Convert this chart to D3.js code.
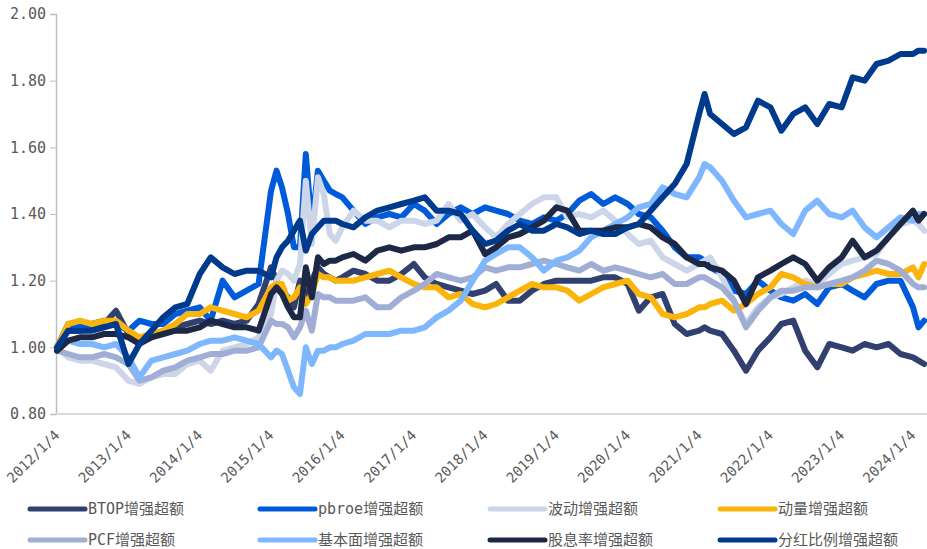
<!DOCTYPE html>
<html>
<head>
<meta charset="utf-8">
<script src="https://cdn.jsdelivr.net/npm/d3@7"></script>
<style>
  body { margin: 0; background: #fff; }
  text { font-family: "DejaVu Sans Mono", "Noto Sans CJK SC", monospace; fill: #595959; }
</style>
</head>
<body>
<div id="chart"></div>
<script>
// dates shared by all series
var dates = [
  "2012-01-04","2012-03-01","2012-05-01","2012-07-01","2012-09-01","2012-11-01",
  "2013-01-04","2013-03-01","2013-05-01","2013-07-01","2013-09-01","2013-11-01",
  "2014-01-04","2014-03-01","2014-05-01","2014-07-01","2014-09-01","2014-11-01",
  "2015-01-04","2015-02-01","2015-03-01","2015-04-01","2015-05-01","2015-06-01",
  "2015-07-01","2015-08-01","2015-09-01","2015-10-01","2015-11-01","2015-12-01",
  "2016-01-04","2016-03-01","2016-05-01","2016-07-01","2016-09-01","2016-11-01",
  "2017-01-04","2017-03-01","2017-05-01","2017-07-01","2017-09-01","2017-11-01",
  "2018-01-04","2018-03-01","2018-05-01","2018-07-01","2018-09-01","2018-11-01",
  "2019-01-04","2019-03-01","2019-05-01","2019-07-01","2019-09-01","2019-11-01",
  "2020-01-04","2020-03-01","2020-05-01","2020-07-01","2020-09-01","2020-11-01",
  "2021-01-04","2021-02-01","2021-03-01","2021-05-01","2021-07-01","2021-09-01","2021-11-01",
  "2022-01-04","2022-03-01","2022-05-01","2022-07-01","2022-09-01","2022-11-01",
  "2023-01-04","2023-03-01","2023-05-01","2023-07-01","2023-09-01","2023-11-01",
  "2024-01-04","2024-02-01","2024-03-01"
];

var btop = [1.00,1.05,1.05,1.06,1.07,1.11, 1.04,1.02,1.03,1.05,1.06,1.07, 1.08,1.07,1.08,1.07,1.08,1.13,
  1.24,1.20,1.17,1.15,1.12,1.20, 1.14,1.20,1.24,1.22,1.21,1.20,
  1.21,1.23,1.22,1.20,1.20,1.22, 1.25,1.21,1.19,1.18,1.17,1.16, 1.17,1.19,1.14,1.14,1.17,1.19,
  1.20,1.20,1.20,1.20,1.21,1.21, 1.19,1.11,1.15,1.16,1.07,1.04,
  1.05,1.06,1.05,1.04,0.99,0.93,0.99, 1.03,1.07,1.08,0.99,0.94,1.01, 1.00,0.99,1.01,1.00,1.01,0.98, 0.97,0.96,0.95];

var pbroe = [1.00,1.07,1.06,1.07,1.08,1.07, 1.05,1.08,1.07,1.07,1.10,1.11, 1.12,1.08,1.20,1.15,1.17,1.19,
  1.47,1.53,1.48,1.40,1.30,1.30, 1.58,1.36,1.53,1.50,1.47,1.46,
  1.45,1.41,1.37,1.39,1.40,1.39, 1.43,1.41,1.37,1.40,1.42,1.40, 1.42,1.41,1.40,1.38,1.37,1.39,
  1.38,1.40,1.44,1.46,1.43,1.45, 1.43,1.40,1.39,1.35,1.30,1.27,
  1.27,1.26,1.24,1.22,1.17,1.16,1.20, 1.17,1.15,1.14,1.16,1.13,1.18, 1.19,1.17,1.15,1.19,1.20,1.20, 1.12,1.06,1.08];

var bodong = [1.00,0.97,0.96,0.96,0.95,0.94, 0.90,0.89,0.91,0.92,0.92,0.95, 0.96,0.93,0.99,1.00,1.01,1.03,
  1.10,1.20,1.23,1.22,1.20,1.25, 1.50,1.31,1.51,1.46,1.34,1.32,
  1.36,1.41,1.38,1.38,1.36,1.38, 1.38,1.37,1.38,1.43,1.38,1.40, 1.36,1.33,1.37,1.40,1.43,1.45,
  1.45,1.39,1.40,1.39,1.41,1.38, 1.34,1.31,1.32,1.27,1.25,1.23,
  1.25,1.26,1.27,1.21,1.14,1.07,1.12, 1.15,1.16,1.18,1.20,1.19,1.22, 1.25,1.26,1.27,1.28,1.33,1.37, 1.38,1.37,1.35];

var dongliang = [1.00,1.07,1.08,1.07,1.08,1.08, 1.05,1.03,1.04,1.05,1.07,1.10, 1.10,1.12,1.11,1.10,1.09,1.11,
  1.18,1.19,1.19,1.14,1.15,1.18, 1.13,1.16,1.22,1.21,1.21,1.20,
  1.20,1.20,1.21,1.22,1.23,1.21, 1.19,1.18,1.18,1.15,1.16,1.13, 1.12,1.13,1.15,1.17,1.19,1.18,
  1.18,1.17,1.14,1.16,1.18,1.19, 1.20,1.16,1.15,1.10,1.09,1.10,
  1.12,1.12,1.13,1.14,1.11,1.13,1.16, 1.18,1.22,1.21,1.19,1.18,1.19, 1.19,1.21,1.22,1.23,1.22,1.22, 1.24,1.21,1.25];

var pcf = [0.99,0.98,0.97,0.97,0.98,0.97, 0.95,0.90,0.91,0.93,0.94,0.96, 0.97,0.98,0.98,0.99,0.99,1.00,
  1.08,1.07,1.07,1.06,1.03,1.06, 1.11,1.05,1.16,1.15,1.15,1.14,
  1.14,1.14,1.15,1.12,1.12,1.15, 1.17,1.19,1.22,1.21,1.20,1.21, 1.24,1.23,1.24,1.24,1.25,1.26,
  1.25,1.24,1.23,1.25,1.23,1.24, 1.23,1.22,1.21,1.22,1.19,1.19,
  1.21,1.21,1.20,1.18,1.14,1.06,1.11, 1.15,1.17,1.17,1.18,1.18,1.19, 1.20,1.21,1.23,1.26,1.25,1.23, 1.19,1.18,1.18];

var jibenmian = [1.00,1.02,1.01,1.01,1.00,1.01, 0.97,0.91,0.96,0.97,0.98,0.99, 1.01,1.02,1.02,1.03,1.02,1.01,
  0.97,0.99,0.98,0.93,0.88,0.86, 1.00,0.95,0.99,0.99,1.00,1.00,
  1.01,1.02,1.04,1.04,1.04,1.05, 1.05,1.06,1.09,1.11,1.14,1.20, 1.26,1.28,1.30,1.30,1.27,1.23,
  1.26,1.27,1.29,1.33,1.35,1.37, 1.39,1.42,1.43,1.48,1.46,1.45,
  1.51,1.55,1.54,1.50,1.44,1.39,1.40, 1.41,1.37,1.34,1.41,1.44,1.40, 1.39,1.41,1.36,1.33,1.36,1.39, 1.38,1.40,1.40];

var guxilv = [0.99,1.02,1.03,1.03,1.04,1.04, 1.03,1.01,1.03,1.04,1.05,1.05, 1.06,1.08,1.07,1.06,1.06,1.05,
  1.16,1.18,1.16,1.12,1.09,1.09, 1.24,1.15,1.27,1.25,1.26,1.26,
  1.27,1.28,1.26,1.29,1.30,1.29, 1.30,1.30,1.31,1.33,1.33,1.35, 1.28,1.30,1.33,1.34,1.36,1.38,
  1.42,1.41,1.35,1.35,1.35,1.36, 1.36,1.37,1.36,1.33,1.31,1.27,
  1.25,1.25,1.24,1.23,1.20,1.13,1.21, 1.23,1.25,1.27,1.25,1.20,1.24, 1.27,1.32,1.27,1.29,1.33,1.37, 1.41,1.38,1.40];

var fenhong = [1.00,1.05,1.05,1.05,1.06,1.07, 0.95,1.01,1.05,1.09,1.12,1.13, 1.22,1.27,1.24,1.22,1.23,1.23,
  1.21,1.27,1.30,1.32,1.35,1.38, 1.29,1.34,1.36,1.38,1.38,1.38,
  1.37,1.36,1.39,1.41,1.42,1.43, 1.44,1.45,1.41,1.41,1.40,1.35, 1.31,1.32,1.35,1.37,1.35,1.35,
  1.37,1.36,1.34,1.35,1.34,1.34, 1.36,1.37,1.41,1.45,1.49,1.55,
  1.70,1.76,1.70,1.67,1.64,1.66,1.74, 1.72,1.65,1.70,1.72,1.67,1.73, 1.72,1.81,1.80,1.85,1.86,1.88, 1.88,1.89,1.89];

var seriesNames = ["BTOP增强超额","pbroe增强超额","波动增强超额","动量增强超额",
                   "PCF增强超额","基本面增强超额","股息率增强超额","分红比例增强超额"];
var seriesValues = [btop, pbroe, bodong, dongliang, pcf, jibenmian, guxilv, fenhong];
var colors = ["#31406f","#005bdb","#cdd5e8","#fbb40a","#a0aed6","#7fb7ff","#1c2846","#003a8c"];
var yTicks = [0.8,1.0,1.2,1.4,1.6,1.8,2.0];
var xTickDates = ["2012-01-04","2013-01-04","2014-01-04","2015-01-04","2016-01-04","2017-01-04",
  "2018-01-04","2019-01-04","2020-01-04","2021-01-04","2022-01-04","2023-01-04","2024-01-04"];

var W = 927, H = 549;
var parse = d3.timeParse("%Y-%m-%d");
var svg = d3.select("#chart").append("svg").attr("width", W).attr("height", H);

var x = d3.scaleTime()
  .domain([parse("2012-01-04"), parse("2024-01-04")])
  .range([57, 913]);
var y = d3.scaleLinear().domain([0.8, 2.0]).range([414, 14]);

// y axis
var yAxis = svg.append("g")
  .attr("transform", "translate(56,0)")
  .call(d3.axisLeft(y).tickValues(yTicks).tickFormat(d3.format(".2f")).tickSize(6).tickPadding(4));
yAxis.select(".domain").attr("stroke", "#bfbfbf").attr("stroke-width", 1.5);
yAxis.selectAll(".tick line").attr("stroke", "#bfbfbf");
yAxis.selectAll("text").style("font-size", "15px").attr("fill", "#595959");

// x axis
var xAxis = svg.append("g")
  .attr("transform", "translate(0,414)")
  .call(d3.axisBottom(x).tickValues(xTickDates.map(parse)).tickFormat(d3.timeFormat("%Y/%-m/%-d")).tickSize(0));
xAxis.select(".domain").attr("stroke", "#d9d9d9").attr("stroke-width", 2)
  .attr("d", "M56,0H927");
xAxis.selectAll("text")
  .style("font-size", "14px")
  .attr("fill", "#595959")
  .attr("text-anchor", "end")
  .attr("y", 0).attr("dy", 0)
  .attr("transform", "translate(3,22) rotate(-45)");

// lines
var line = d3.line()
  .x(function(d, i){ return x(parse(dates[i])); })
  .y(function(d){ return y(d); })
  .curve(d3.curveLinear);

for (var s = 0; s < seriesValues.length; s++) {
  svg.append("path")
    .datum(seriesValues[s])
    .attr("fill", "none")
    .attr("stroke", colors[s])
    .attr("stroke-width", 6)
    .attr("stroke-linejoin", "round")
    .attr("stroke-linecap", "round")
    .attr("d", line);
}

// legend
var legX = [30, 260, 490, 720];
var legY = [509, 540];
seriesNames.forEach(function(name, i){
  var lx = legX[i % 4], ly = legY[Math.floor(i / 4)];
  svg.append("line")
    .attr("x1", lx).attr("x2", lx + 55)
    .attr("y1", ly).attr("y2", ly)
    .attr("stroke", colors[i]).attr("stroke-width", 5).attr("stroke-linecap", "round");
  svg.append("text")
    .attr("x", lx + 58).attr("y", ly + 5)
    .style("font-size", "15px")
    .text(name);
});
</script>
</body>
</html>
